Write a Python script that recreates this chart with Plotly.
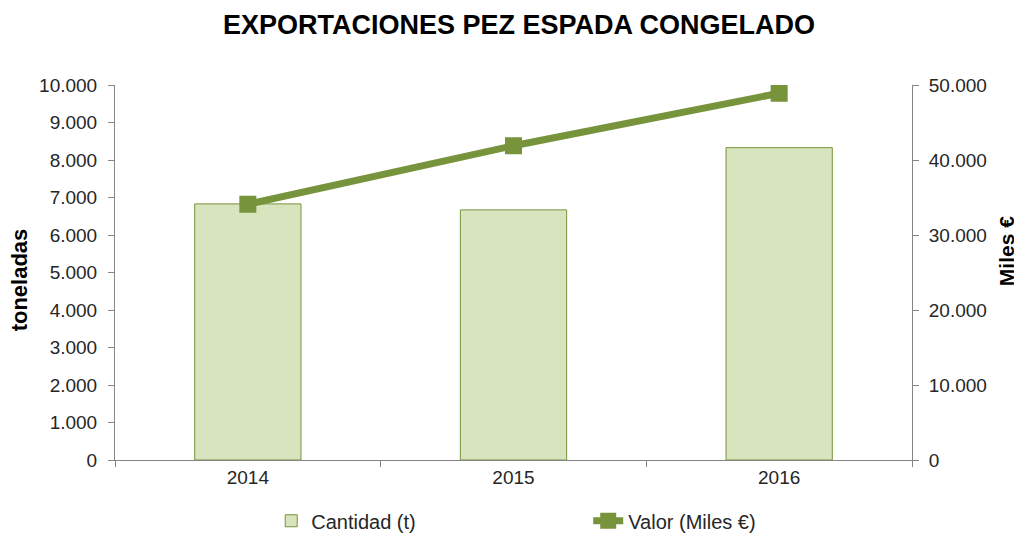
import plotly.graph_objects as go

years = ["2014", "2015", "2016"]
cantidad = [6830, 6670, 8330]
valor = [34100, 41900, 48900]

left_ticks = list(range(0, 10001, 1000))
right_ticks = list(range(0, 50001, 10000))

font_family = "Liberation Sans, Arial, sans-serif"
text_color = "#262626"
axis_color = "#868686"

fig = go.Figure()
fig.add_trace(go.Bar(
    x=years, y=cantidad, name="Cantidad (t)",
    marker=dict(color="#D7E4BD", line=dict(color="#77933C", width=1)),
    yaxis="y",
))
fig.add_trace(go.Scatter(
    x=years, y=valor, name="Valor (Miles €)", mode="lines+markers",
    line=dict(color="#77933C", width=7),
    marker=dict(symbol="square", size=17, color="#77933C"),
    yaxis="y2",
))

# the page body has an 8px margin, so the figure is sized/offset to compensate
fig.update_layout(
    width=1014, height=529,
    autosize=False,
    paper_bgcolor="white", plot_bgcolor="white",
    separators=",.",
    margin=dict(l=107, r=110, t=77, b=77, autoexpand=False),
    font=dict(family=font_family, size=19, color=text_color),
    title=dict(text="<b>EXPORTACIONES PEZ ESPADA CONGELADO</b>",
               x=0.504, xanchor="center", y=0.968, yanchor="middle",
               font=dict(size=27, color="black")),
    bargap=0.6,
    showlegend=True,
    legend=dict(orientation="h", x=0.196, xanchor="left", y=-0.11, yanchor="top",
                font=dict(size=20, color=text_color), entrywidth=272,
                traceorder="normal"),
    xaxis=dict(
        showline=True, linecolor=axis_color, linewidth=1,
        ticks="outside", tickson="boundaries", ticklen=6, tickcolor=axis_color,
        showgrid=False, tickfont=dict(size=19),
    ),
    yaxis=dict(
        range=[0, 10000], tickvals=left_ticks, tickformat=",d",
        showline=True, linecolor=axis_color, linewidth=1,
        ticks="outside", ticklen=6, tickcolor=axis_color, ticklabelstandoff=7,
        showgrid=False, zeroline=False, automargin=False,
    ),
    yaxis2=dict(
        range=[0, 50000], tickvals=right_ticks, tickformat=",d",
        overlaying="y", side="right",
        showline=True, linecolor=axis_color, linewidth=1,
        ticks="outside", ticklen=6, tickcolor=axis_color, ticklabelstandoff=6,
        showgrid=False, zeroline=False, automargin=False,
    ),
    annotations=[
        dict(text="<b>toneladas</b>", xref="paper", yref="paper",
             x=-0.12, y=0.48, xanchor="center", yanchor="middle",
             textangle=-90, showarrow=False,
             font=dict(size=22, color="black")),
        dict(text="<b>Miles €</b>", xref="paper", yref="paper",
             x=1.118, y=0.557, xanchor="center", yanchor="middle",
             textangle=-90, showarrow=False,
             font=dict(size=21, color="black")),
    ],
)

fig.write_html("out.html")
